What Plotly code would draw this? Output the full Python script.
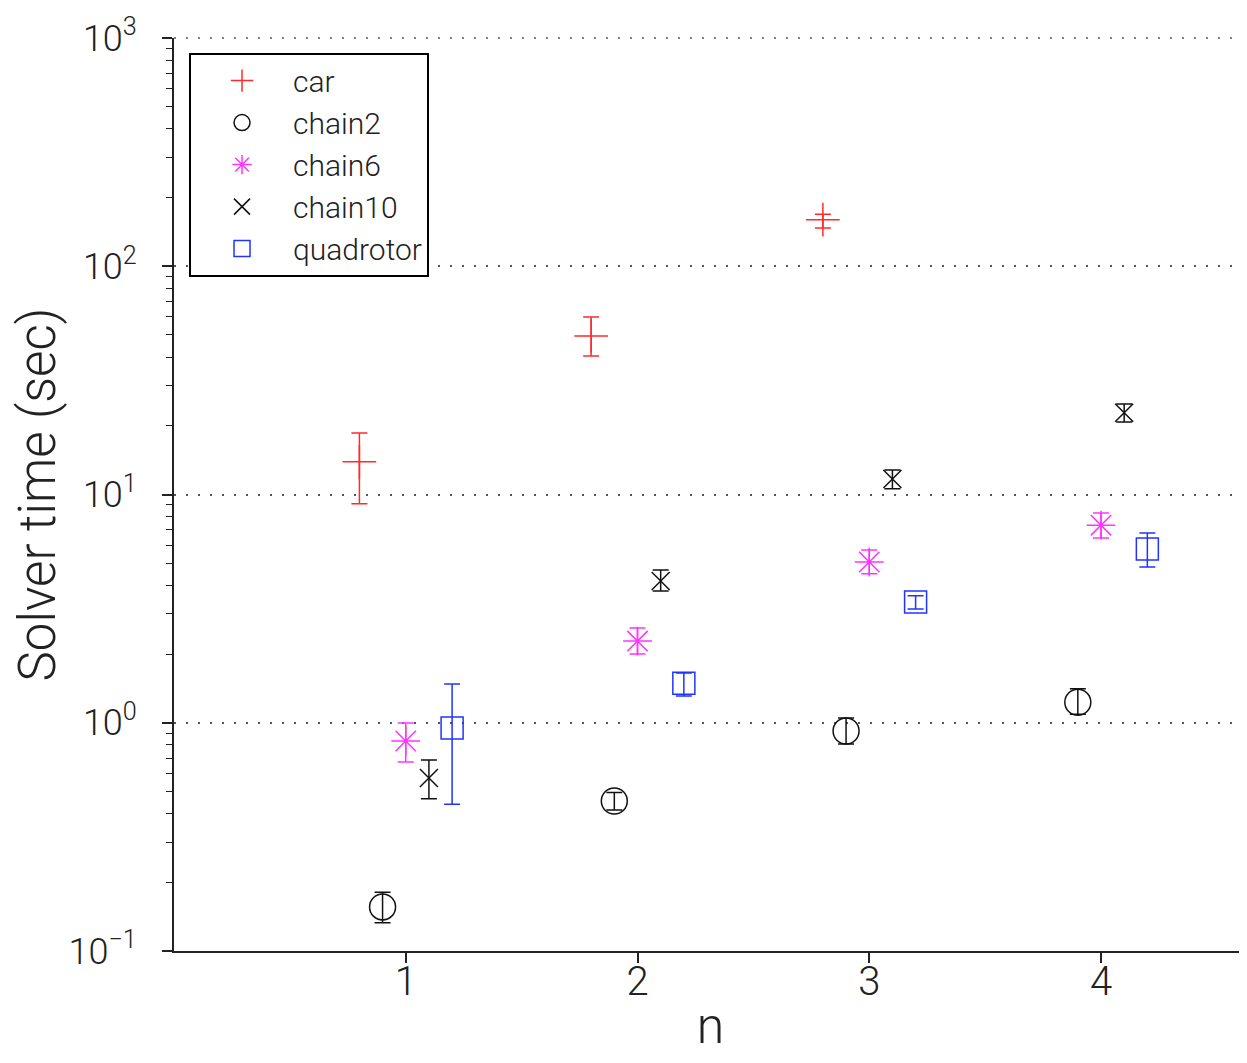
import plotly.graph_objects as go

# ---- data ----
car_x = [0.8, 1.8, 2.8]
car_y = [13.9, 49.5, 160.0]
car_hi = [18.6, 59.9, 169.0]
car_lo = [9.1, 40.4, 147.0]

chain2_x = [0.9, 1.9, 2.9, 3.9]
chain2_y = [0.156, 0.454, 0.92, 1.23]
chain2_hi = [0.181, 0.495, 1.05, 1.41]
chain2_lo = [0.133, 0.415, 0.807, 1.09]

chain6_x = [1.0, 2.0, 3.0, 4.0]
chain6_y = [0.832, 2.28, 5.06, 7.34]
chain6_hi = [0.998, 2.60, 5.71, 8.3]
chain6_lo = [0.673, 2.0, 4.49, 6.44]

chain10_x = [1.1, 2.1, 3.1, 4.1]
chain10_y = [0.573, 4.18, 11.7, 22.8]
chain10_hi = [0.687, 4.67, 12.8, 24.9]
chain10_lo = [0.464, 3.78, 10.6, 20.8]

quad_x = [1.2, 2.2, 3.2, 4.2]
quad_y = [0.948, 1.49, 3.38, 5.77]
quad_hi = [1.48, 1.65, 3.6, 6.78]
quad_lo = [0.44, 1.31, 3.15, 4.81]

x_ticks = [1, 2, 3, 4]
y_tickvals = [0.1, 1, 10, 100, 1000]
y_ticktext = ["10<sup>−1</sup>", "10<sup>0</sup>", "10<sup>1</sup>", "10<sup>2</sup>", "10<sup>3</sup>"]

FONT = "Roboto"
GRID_DASH = "2px,10px"
GRID_COLOR = "#555555"

series = [
    ("car", car_x, car_y, car_hi, car_lo, "#ff2a2a", "cross-thin-open", 24),
    ("chain2", chain2_x, chain2_y, chain2_hi, chain2_lo, "#111111", "circle-open", 26),
    ("chain6", chain6_x, chain6_y, chain6_hi, chain6_lo, "#ff33ff", "asterisk-open", 24),
    ("chain10", chain10_x, chain10_y, chain10_hi, chain10_lo, "#111111", "x-thin-open", 18),
    ("quadrotor", quad_x, quad_y, quad_hi, quad_lo, "#2233ff", "square-open", 22),
]

fig = go.Figure()
for name, xs, ys, hi, lo, col, sym, sz in series:
    fig.add_trace(go.Scatter(
        x=xs, y=ys, name=name, mode="markers",
        marker=dict(symbol=sym, size=sz, color=col, line=dict(color=col, width=1.5)),
        error_y=dict(type="data", symmetric=False,
                     array=[h - v for h, v in zip(hi, ys)],
                     arrayminus=[v - l for l, v in zip(lo, ys)],
                     color=col, thickness=1.5, width=8),
    ))

# top gridline (10^3) sits on the plot edge
fig.add_shape(type="line", xref="paper", yref="paper", x0=0, x1=1, y0=1, y1=1,
              line=dict(color=GRID_COLOR, width=1.5, dash=GRID_DASH), layer="below")

fig.update_layout(
    width=1239, height=1047,
    margin=dict(l=166, r=0, t=30, b=104),
    plot_bgcolor="white", paper_bgcolor="white",
    font=dict(family=FONT, color="#222222"),
    showlegend=True,
    legend=dict(x=0.014, y=0.984, xanchor="left", yanchor="top",
                bgcolor="white", bordercolor="black", borderwidth=2,
                font=dict(size=30, family=FONT, weight=300),
                itemwidth=92, itemsizing="trace"),
)
fig.update_xaxes(
    range=[0, 4.63], tickvals=x_ticks, ticktext=[str(t) for t in x_ticks],
    showline=True, linecolor="#222222", linewidth=2,
    ticks="outside", ticklen=10, tickwidth=1.5, tickcolor="#222222",
    showgrid=False, zeroline=False, automargin=False,
    ticklabelstandoff=-16,
    tickfont=dict(size=40, family=FONT, weight=300),
    title=dict(text="n", font=dict(size=50, family=FONT, weight=300), standoff=20),
)
fig.update_yaxes(
    type="log", range=[-1, 3], tickvals=y_tickvals, ticktext=y_ticktext,
    showline=True, linecolor="#222222", linewidth=2,
    ticks="outside", ticklen=10, tickwidth=1.5, tickcolor="#222222",
    minor=dict(ticks="outside", ticklen=6, tickwidth=1.2, tickcolor="#222222", dtick="D1", showgrid=False),
    showgrid=True, gridcolor=GRID_COLOR, gridwidth=1.5, griddash=GRID_DASH,
    zeroline=False,
    ticklabelstandoff=18,
    tickfont=dict(size=36, family=FONT, weight=300),
    title=dict(text="Solver time (sec)", font=dict(size=51, family=FONT, weight=300), standoff=6),
)

fig.write_html("out.html")
